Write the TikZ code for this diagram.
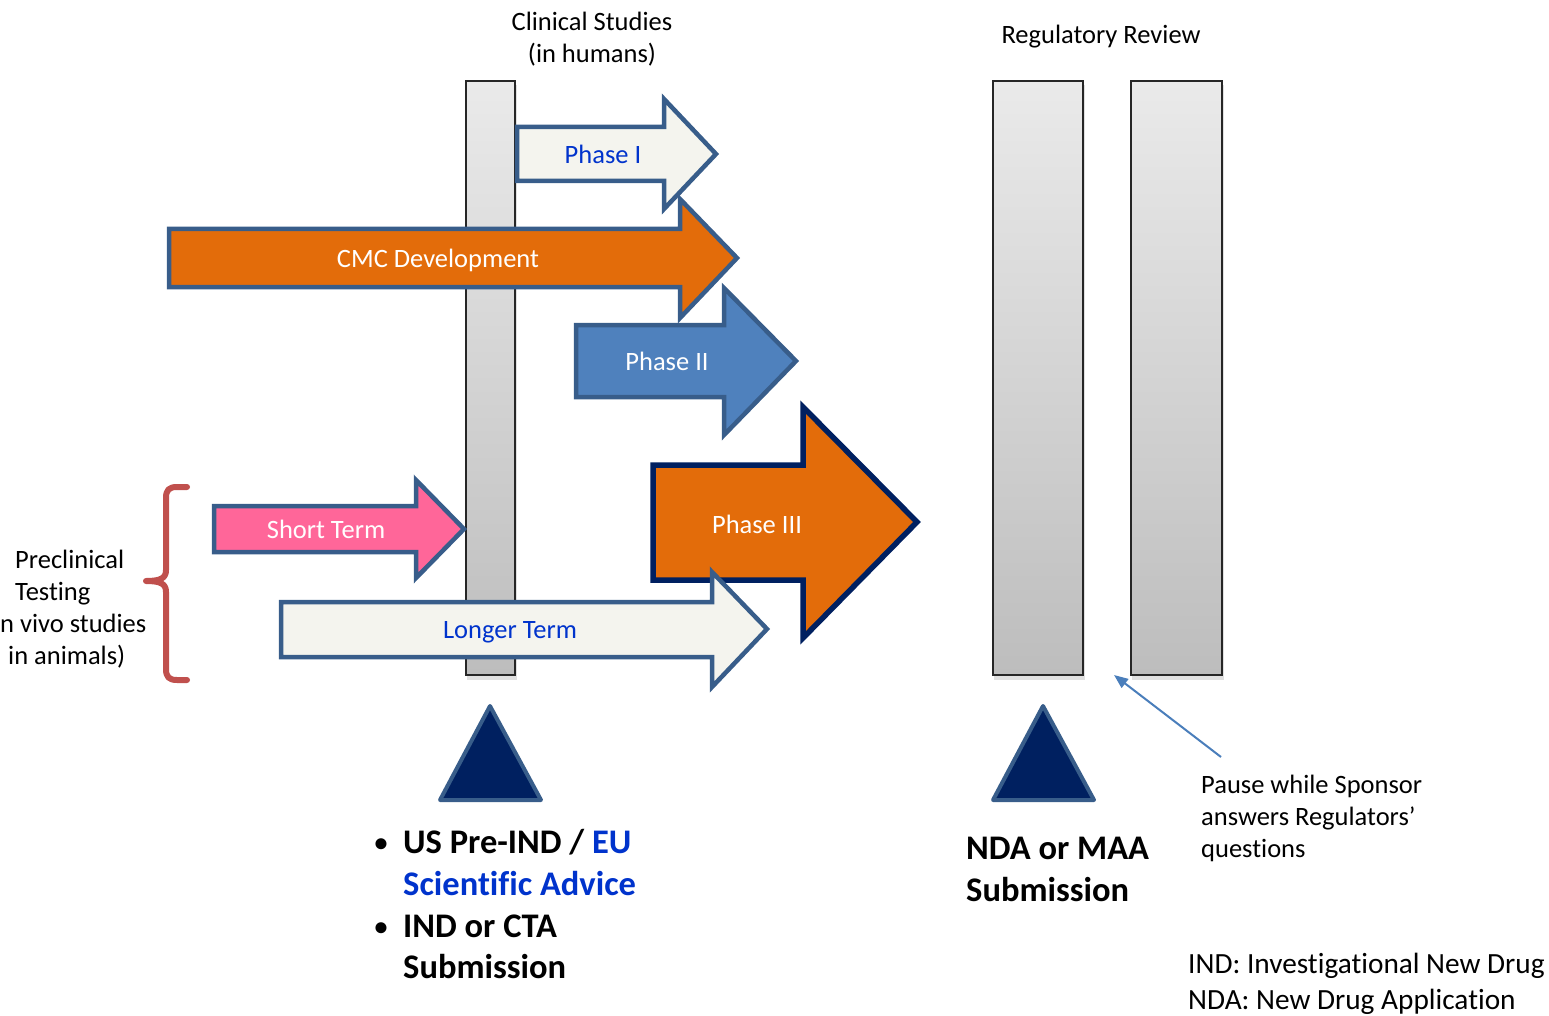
\documentclass[tikz,border=0pt]{standalone}
\usepackage{fontspec}
\setmainfont[Ligatures={NoCommon}]{Carlito}
\usetikzlibrary{arrows.meta}
\definecolor{arrowline}{HTML}{385D8A}
\definecolor{orangefill}{HTML}{E36C0A}
\definecolor{bluefill}{HTML}{4F81BD}
\definecolor{pinkfill}{HTML}{FF6699}
\definecolor{offwhite}{HTML}{F4F4EE}
\definecolor{navy}{HTML}{002060}
\definecolor{bracered}{HTML}{C0504D}
\definecolor{textblue}{HTML}{0033CC}
\definecolor{pauseblue}{HTML}{4A7EBB}
\definecolor{bartop}{HTML}{EAEAEA}
\definecolor{barbot}{HTML}{BDBDBD}
\begin{document}
\begin{tikzpicture}[x=1pt,y=-1pt,
  bar/.style={draw=black!85, line width=1.3pt, top color=bartop, bottom color=barbot},
  barshadow/.style={fill=black, opacity=0.12},
  bigarrow/.style={draw=arrowline, line width=4.5pt, line join=miter},
  txt/.style={font=\fontsize{26.5}{30}\selectfont, anchor=mid, inner sep=0pt},
  txtw/.style={txt, anchor=mid west},
  bold/.style={font=\fontsize{34.5}{40}\selectfont\bfseries, anchor=mid west, inner sep=0pt},
  legend/.style={txtw, font=\fontsize{29.3}{34}\selectfont},
  tri/.style={fill=navy, draw=arrowline, line width=4pt, line join=round},
  brace/.style={draw=bracered, line width=6pt, line cap=round, line join=round},
  pausearrow/.style={draw=pauseblue, line width=2pt, -{Triangle[length=14pt,width=11pt]}}
]
\useasboundingbox (0,0) rectangle (1549,1016);

% bars
\fill[barshadow] (467,85) rectangle (517,680);
\fill[barshadow] (994,85) rectangle (1085,680);
\fill[barshadow] (1132,85) rectangle (1224,680);
\draw[bar] (466,81) rectangle (515,675);
\draw[bar] (993,81) rectangle (1083,675);
\draw[bar] (1131,81) rectangle (1222,675);

% Phase I
\draw[bigarrow, fill=offwhite] (517,127) -- (664,127) -- (664,99) -- (716,154) -- (664,209) -- (664,181) -- (517,181) -- cycle;
\node[txt, text=textblue] (p1) at (603,161) {Phase I};

% CMC Development
\draw[bigarrow, fill=orangefill] (169,229) -- (680,229) -- (680,199) -- (737,258) -- (680,318) -- (680,287) -- (169,287) -- cycle;
\node[txt, text=white] (cmc) at (438,265) {CMC Development};

% Phase II
\draw[bigarrow, fill=bluefill] (576,325) -- (724,325) -- (724,288) -- (796,361) -- (724,435) -- (724,397) -- (576,397) -- cycle;
\node[txt, text=white] (p2) at (667,368) {Phase II};

% Phase III
\draw[bigarrow, draw=navy, line width=5.5pt, fill=orangefill] (653,465) -- (803,465) -- (803,407) -- (917,522) -- (803,638) -- (803,580) -- (653,580) -- cycle;
\node[txt, text=white] (p3) at (757,531) {Phase III};

% Longer Term
\draw[bigarrow, fill=offwhite] (281,602) -- (712,602) -- (712,572) -- (767,629) -- (712,687) -- (712,657) -- (281,657) -- cycle;
\node[txt, text=textblue] (lt) at (510,636) {Longer Term};

% Short Term
\draw[bigarrow, fill=pinkfill] (214,506) -- (416,506) -- (416,480) -- (464,529) -- (416,578) -- (416,552) -- (214,552) -- cycle;
\node[txt, text=white] (st) at (326,536) {Short Term};

% brace
\draw[brace] (187,487) -- (177,487) .. controls (169,487) and (166,490) .. (166,498) -- (166,570)
  .. controls (166,578) and (161,581) .. (146,581)
  .. controls (161,581) and (166,584) .. (166,592) -- (166,669)
  .. controls (166,677) and (169,680) .. (177,680) -- (187,680);

% preclinical text
\node[txtw] (pre1) at (15,566) {Preclinical};
\node[txtw] (pre2) at (15,598) {Testing};
\node[txtw] (pre3) at (0,630) {n vivo studies};
\node[txtw] (pre4) at (8,662) {in animals)};

% headings
\node[txt] (cs1) at (592,28) {Clinical Studies};
\node[txt] (cs2) at (592,60) {(in humans)};
\node[txt] (rr) at (1101,41) {Regulatory Review};

% triangles
\draw[tri] (490,706) -- (541,800) -- (440,800) -- cycle;
\draw[tri] (1043,706) -- (1094,800) -- (993,800) -- cycle;

% bullets
\node[bold, anchor=mid, font=\fontsize{26}{30}\selectfont\bfseries] (b1) at (381,849) {\textbullet};
\node[bold] (l1) at (403,851) {US Pre-IND / \textcolor{textblue}{EU}};
\node[bold, text=textblue] (l2) at (403,893) {Scientific Advice};
\node[bold, anchor=mid, font=\fontsize{26}{30}\selectfont\bfseries] (b2) at (381,933) {\textbullet};
\node[bold] (l3) at (403,935) {IND or CTA};
\node[bold] (l4) at (403,976) {Submission};

\node[bold] (n1) at (966,857) {NDA or MAA};
\node[bold] (n2) at (966,899) {Submission};

% pause
\node[txtw] (pa1) at (1201,791) {Pause while Sponsor};
\node[txtw] (pa2) at (1201,823) {answers Regulators’};
\node[txtw] (pa3) at (1201,855) {questions};
\coordinate (pstart) at (1221,757);
\coordinate (pend) at (1114,675);
\draw[pausearrow] (pstart) -- (pend);

% legend
\node[legend] (lg1) at (1188,971) {IND: Investigational New Drug};
\node[legend] (lg2) at (1188,1007) {NDA: New Drug Application};
\end{tikzpicture}
\end{document}
